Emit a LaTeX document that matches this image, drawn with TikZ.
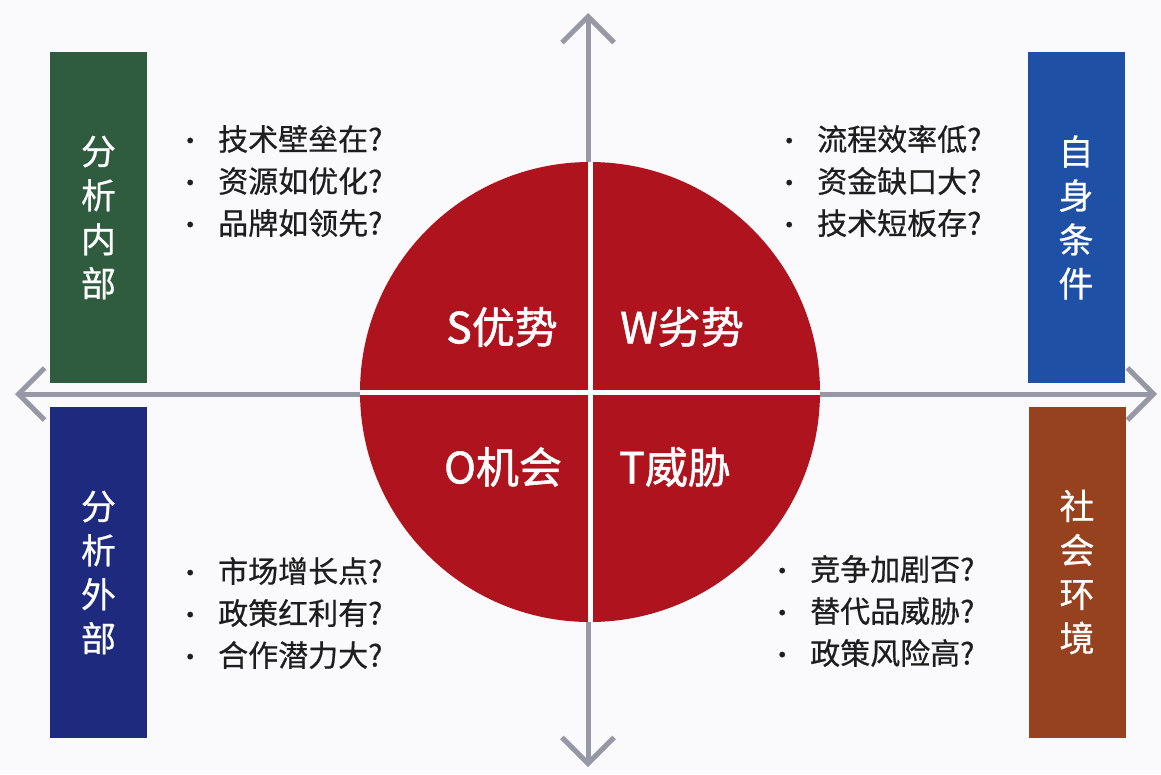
\documentclass[tikz,border=0pt]{standalone}
\usepackage{fontspec}
\setmainfont{Noto Sans CJK SC}
\newfontfamily\heavycjk[FakeBold=1.2]{Noto Sans CJK SC}
\newfontfamily\medcjk[FakeBold=0.6]{Noto Sans CJK SC}
\usetikzlibrary{arrows.meta}
\definecolor{bgc}{HTML}{FAFAFC}
\definecolor{boxgreen}{HTML}{2F5C3E}
\definecolor{boxnavy}{HTML}{1E2A7E}
\definecolor{boxblue}{HTML}{1E50A6}
\definecolor{boxbrown}{HTML}{97421F}
\definecolor{swotred}{HTML}{AF141E}
\definecolor{axisgray}{HTML}{9798A6}
\definecolor{txtdark}{HTML}{1E1E1E}
\tikzset{
  sidebox/.style={rectangle, inner sep=0pt, minimum width=97pt, minimum height=331pt,
    text=white, align=center, font=\medcjk\fontsize{35}{44}\selectfont},
  quadlabel/.style={text=white, inner sep=0pt, font=\heavycjk\fontsize{43}{50}\selectfont},
  bulletlist/.style={anchor=west, inner sep=0pt, align=left, text=txtdark,
    font=\medcjk\fontsize{30}{42}\selectfont},
  axisline/.style={draw=axisgray, line width=5pt,
    {Straight Barb[length=26pt,width=52pt]}-{Straight Barb[length=26pt,width=52pt]}},
  gapline/.style={draw=white, line width=5pt}
}
\newcommand{\bitem}[1]{\makebox[41pt][l]{\fontsize{26}{26}\selectfont•}#1}
\begin{document}
\begin{tikzpicture}[x=1pt,y=-1pt]
\fill[bgc] (0,0) rectangle (1161,774);
\useasboundingbox (0,0) rectangle (1161,774);
% axes
\coordinate (axL) at (15,394);
\coordinate (axR) at (1157,394);
\coordinate (axT) at (588,13);
\coordinate (axB) at (588,767);
\draw[axisline] (axL) -- (axR);
\draw[axisline] (axT) -- (axB);
% circle
\node[circle, fill=swotred, minimum size=460pt, inner sep=0pt] (circ) at (590,392) {};
\draw[gapline] (circ.north) -- (circ.south);
\draw[gapline] (circ.west) -- (circ.east);
% quadrant labels
\node[quadlabel] (S) at (502,327) {S优势};
\node[quadlabel] (W) at (682,327) {W劣势};
\node[quadlabel] (O) at (503,467) {O机会};
\node[quadlabel] (T) at (675,467) {T威胁};
% side boxes
\node[sidebox, fill=boxgreen] (bin) at (98.5,217.5) {分\\析\\内\\部};
\node[sidebox, fill=boxnavy] (bout) at (98.5,572.5) {分\\析\\外\\部};
\node[sidebox, fill=boxblue] (bself) at (1076,217.5) {自\\身\\条\\件};
\node[sidebox, fill=boxbrown] (bsoc) at (1077,572) {社\\会\\环\\境};
% bullet lists
\node[bulletlist] (lS) at (177,181) {\bitem{技术壁垒在?}\\\bitem{资源如优化?}\\\bitem{品牌如领先?}};
\node[bulletlist] (lW) at (776,181) {\bitem{流程效率低?}\\\bitem{资金缺口大?}\\\bitem{技术短板存?}};
\node[bulletlist] (lO) at (177,613) {\bitem{市场增长点?}\\\bitem{政策红利有?}\\\bitem{合作潜力大?}};
\node[bulletlist] (lT) at (769,611) {\bitem{竞争加剧否?}\\\bitem{替代品威胁?}\\\bitem{政策风险高?}};
\end{tikzpicture}
\end{document}
